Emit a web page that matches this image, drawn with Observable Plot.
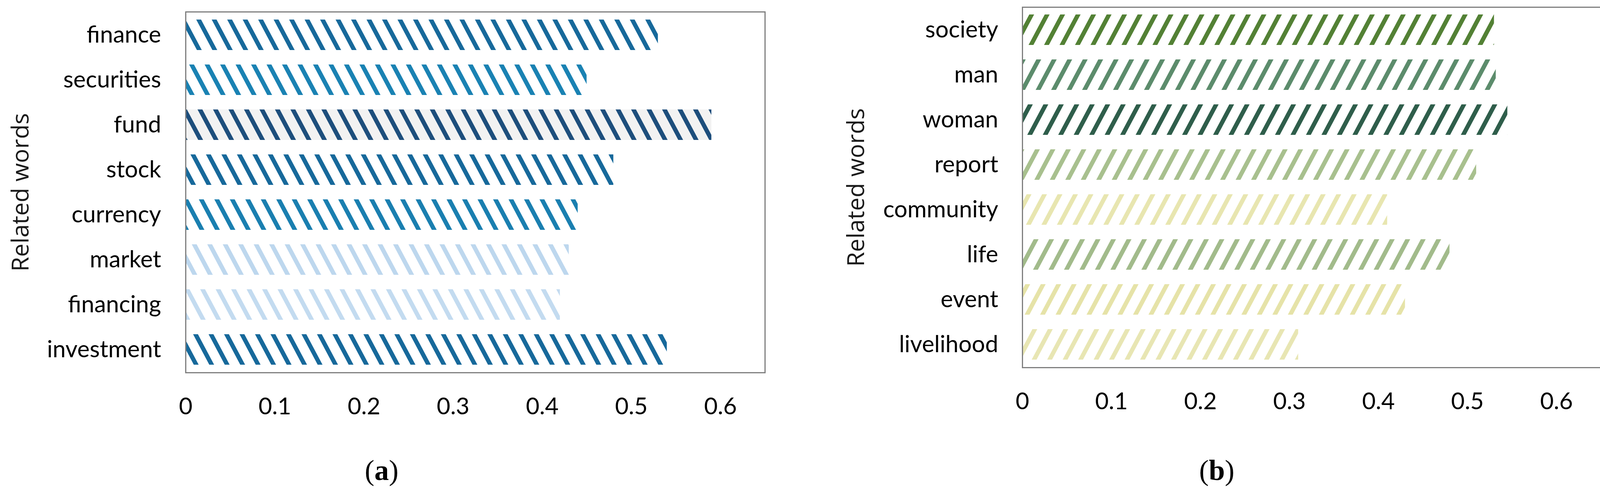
<!DOCTYPE html>
<html>
<head>
<meta charset="utf-8">
<script src="https://cdn.jsdelivr.net/npm/d3@7"></script>
<script src="https://cdn.jsdelivr.net/npm/@observablehq/plot@0.6"></script>
<style>
  html, body { margin: 0; padding: 0; background: #fff; }
  #wrap { position: relative; width: 4118px; height: 1251px; overflow: hidden; }
  .panel { position: absolute; top: 0; height: 1251px; }
  .cap { position: absolute; top: 1160px; transform: translateX(-50%); font-family: "Liberation Serif", "DejaVu Serif", serif; font-size: 74px; line-height: 86px; color: #000; white-space: nowrap; }
</style>
</head>
<body>
<div id="wrap">
  <div class="panel" id="pa" style="left:0;width:2060px"></div>
  <div class="panel" id="pb" style="left:2060px;width:2058px"></div>
  <div class="cap" style="left:977px">(<b>a</b>)</div>
  <div class="cap" style="left:3115px">(<b>b</b>)</div>
</div>
<script>
// ---- data ----
const wordsA = ["finance", "securities", "fund", "stock", "currency", "market", "financing", "investment"];
const valuesA = [0.53, 0.45, 0.59, 0.48, 0.44, 0.43, 0.42, 0.54];
const wordsB = ["society", "man", "woman", "report", "community", "life", "event", "livelihood"];
const valuesB = [0.53, 0.532, 0.545, 0.51, 0.41, 0.48, 0.43, 0.31];
const xTicks = [0, 0.1, 0.2, 0.3, 0.4, 0.5, 0.6];
const yLabel = "Related words";

// ---- styles ----
const stripeA = ["#17699b", "#1a82b3", "#1d4e7c", "#17699b", "#1a7fb0", "#bdd7ee", "#c3dbf0", "#17699b"];
const bgA = ["#ffffff", "#ffffff", "#f2f2f2", "#ffffff", "#ffffff", "#ffffff", "#ffffff", "#ffffff"];
const stripeB = ["#538135", "#5c8c6c", "#2f5e4b", "#a8c08e", "#e8e6b0", "#a2bb8b", "#e6e3a8", "#e8e6b3"];
const bgB = stripeB.map(() => "#ffffff");

function patternDefs(prefix, stripes, bgs, dir) {
  return stripes.map((c, i) =>
    `<pattern id="${prefix}${i}" patternUnits="userSpaceOnUse" width="35" height="100" patternTransform="rotate(${dir * 28})">` +
    `<rect width="35" height="100" fill="${bgs[i]}"/><rect x="0" width="11" height="100" fill="${c}"/></pattern>`
  ).join("");
}

function makePanel(words, values, prefix, stripes, bgs, dir, o) {
  const data = words.map((w, i) => ({word: w, value: values[i]}));
  const svg = Plot.plot({
    width: o.width,
    height: 1100,
    marginLeft: o.ml,
    marginRight: o.mr,
    marginTop: o.mt,
    marginBottom: 1100 - o.fb,
    style: {fontFamily: "Lato, sans-serif", fontSize: "60px", color: "#000", background: "transparent"},
    x: {domain: [0, 0.65]},
    y: {domain: words, paddingInner: 0.32, paddingOuter: 0.16},
    color: {type: "ordinal", domain: words, range: words.map((_, i) => `url(#${prefix}${i})`)},
    marks: [
      Plot.barX(data, {x: "value", y: "word", fill: "word"}),
      Plot.frame({stroke: "#7f7f7f", strokeWidth: 3}),
      Plot.axisX({ticks: xTicks, tickSize: 0, tickPadding: 64, label: null, tickFormat: d => String(d)}),
      Plot.axisY({tickSize: 0, tickPadding: o.tp, label: null}),
      Plot.text([yLabel], {frameAnchor: "left", textAnchor: "middle", lineAnchor: "middle", dx: o.ldx, rotate: -90, fontSize: 61, fontFamily: "'Open Sans', sans-serif", fill: "#1a1a1a"})
    ]
  });
  const ns = "http://www.w3.org/2000/svg";
  const defs = document.createElementNS(ns, "defs");
  defs.innerHTML = patternDefs(prefix, stripes, bgs, dir);
  svg.insertBefore(defs, svg.firstChild);
  return svg;
}

document.getElementById("pa").appendChild(
  makePanel(wordsA, valuesA, "pa", stripeA, bgA, -1, {width: 2060, ml: 475, mr: 102, mt: 30, fb: 953, tp: 63, ldx: -422})
);
document.getElementById("pb").appendChild(
  makePanel(wordsB, valuesB, "pb", stripeB, bgB, 1, {width: 2058, ml: 557, mr: 20, mt: 18, fb: 940, tp: 62, ldx: -425})
);
</script>
</body>
</html>
